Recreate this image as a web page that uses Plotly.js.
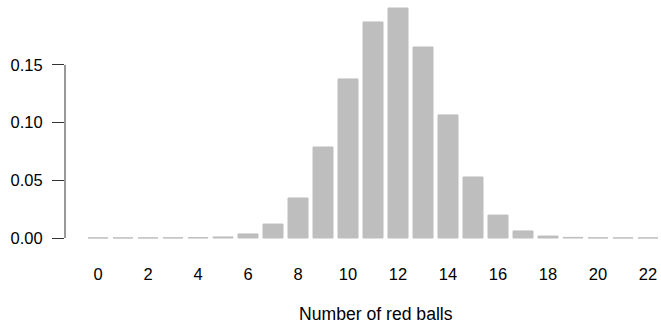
<!DOCTYPE html>
<html>
<head>
<meta charset="utf-8">
<script src="https://cdn.plot.ly/plotly-3.0.1.min.js"></script>
<style>html,body{margin:0;padding:0;background:#fff;}#chart{width:661px;height:323px;}</style>
</head>
<body>
<div id="chart"></div>
<script>
// Number of red balls (categories)
var balls = [0,1,2,3,4,5,6,7,8,9,10,11,12,13,14,15,16,17,18,19,20,21,22];
// Probability of each count
var probs = [0.0001,0.0001,0.0001,0.0002,0.0003,0.0009,0.0035,0.0121,0.0347,0.0789,
             0.1379,0.1873,0.1994,0.1656,0.1067,0.0529,0.0199,0.0061,0.0017,0.0005,
             0.0002,0.0001,0.0001];
var xTicks = [0,2,4,6,8,10,12,14,16,18,20,22];
var yTicks = [0,0.05,0.10,0.15];
var xTitle = "Number of red balls";

var font = {family: "Liberation Sans, Arial, sans-serif", size: 16.5, color: "#000"};
var titleFont = {family: "Liberation Sans, Arial, sans-serif", size: 17.6, color: "#000"};

var trace = {
  type: "bar",
  x: balls,
  y: probs,
  marker: {color: "#bebebe", line: {color: "#bebebe", width: 1}},
  hoverinfo: "x+y"
};

var layout = {
  width: 661, height: 323,
  margin: {l: 65, r: 0, t: 5, b: 75},
  paper_bgcolor: "#fff", plot_bgcolor: "#fff",
  font: font,
  showlegend: false,
  bargap: 0.2,
  xaxis: {
    range: [-1.32, 22.52],
    tickmode: "array", tickvals: xTicks, ticktext: xTicks.map(String),
    ticks: "", showline: false, showgrid: false, zeroline: false,
    ticklabelstandoff: 14,
    tickfont: font
  },
  yaxis: {
    range: [-0.00867, 0.2020],
    tickmode: "array", tickvals: yTicks, ticktext: yTicks.map(function(v){return v.toFixed(2);}),
    ticks: "outside", ticklen: 12, tickwidth: 1, tickcolor: "#333",
    showline: false, showgrid: false, zeroline: false,
    ticklabelstandoff: 6,
    tickfont: font
  },
  shapes: [{
    type: "line", xref: "paper", yref: "y",
    x0: 0, x1: 0, y0: yTicks[0], y1: yTicks[yTicks.length-1],
    line: {color: "#333", width: 1}
  }],
  annotations: [{
    text: xTitle, xref: "x", yref: "paper",
    x: (balls[0] + balls[balls.length-1]) / 2 + 0.1, y: 0,
    yshift: -66, showarrow: false, xanchor: "center", yanchor: "middle",
    font: titleFont
  }]
};

Plotly.newPlot("chart", [trace], layout, {displayModeBar: false, staticPlot: true});
</script>
</body>
</html>
